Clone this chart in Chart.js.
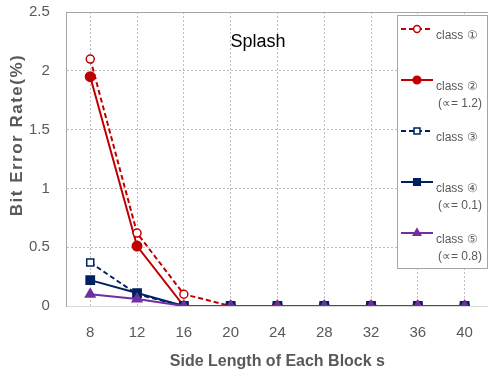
<!DOCTYPE html>
<html>
<head>
<meta charset="utf-8">
<script src="https://cdn.jsdelivr.net/npm/chart.js@4.4.1/dist/chart.umd.min.js"></script>
<style>
  html, body { margin: 0; padding: 0; background: #fff; }
  #wrap { width: 488px; height: 378px; position: relative; }
</style>
</head>
<body>
<div id="wrap"><canvas id="berChart" width="488" height="378"></canvas></div>
<script>
// ===============================
// Data
// ===============================
const sideLengths = ["8", "12", "16", "20", "24", "28", "32", "36", "40"];

const class1 = [2.1, 0.62, 0.1, 0, 0, 0, 0, 0, 0];
const class2 = [1.95, 0.51, 0, 0, 0, 0, 0, 0, 0];
const class3 = [0.37, 0.1, 0, 0, 0, 0, 0, 0, 0];
const class4 = [0.22, 0.11, 0, 0, 0, 0, 0, 0, 0];
const class5 = [0.1, 0.06, 0, 0, 0, 0, 0, 0, 0];

const seriesNames = ["class \u2460", "class \u2461", "class \u2462", "class \u2463", "class \u2464"];
const alphaNotes = ["", "(\u221D= 1.2)", "", "(\u221D= 0.1)", "(\u221D= 0.8)"];

const RED = "#C00000";
const NAVY = "#002060";
const PURPLE = "#7030A0";
const GRAY = "#595959";
const FONT = "'Liberation Sans', Arial, sans-serif";

// ===============================
// Title, axis titles and legend drawn by hand
// ===============================
const insideLegend = {
    id: "insideLegend",
    beforeDatasetsDraw(chart) {
        // solid top frame line
        const a = chart.chartArea;
        const ctx = chart.ctx;
        ctx.save();
        ctx.strokeStyle = "#a6a6a6";
        ctx.lineWidth = 1;
        ctx.beginPath();
        ctx.moveTo(a.left, Math.round(a.top) + 0.5);
        ctx.lineTo(a.right, Math.round(a.top) + 0.5);
        ctx.stroke();
        ctx.restore();
    },
    afterDraw(chart) {
        const ctx = chart.ctx;
        const a = chart.chartArea;
        ctx.save();

        // title
        ctx.fillStyle = "#000";
        ctx.font = "18px " + FONT;
        ctx.textAlign = "center";
        ctx.textBaseline = "middle";
        ctx.fillText("Splash", 258, 42);

        // x axis title
        ctx.fillStyle = GRAY;
        ctx.font = "bold 16px " + FONT;
        ctx.fillText("Side Length of Each Block s", (a.left + a.right) / 2, 362);

        // y axis title
        ctx.save();
        ctx.translate(17, 135);
        ctx.rotate(-Math.PI / 2);
        ctx.fillStyle = GRAY;
        ctx.font = "bold 17px " + FONT;
        ctx.letterSpacing = "1.5px";
        ctx.fillText("Bit Error Rate(%)", 0, 0);
        ctx.restore();

        // legend box
        const bx = 397, by = 15, bw = 90, bh = 253;
        ctx.fillStyle = "#fff";
        ctx.fillRect(bx, by, bw, bh);
        ctx.strokeStyle = "#a6a6a6";
        ctx.lineWidth = 1;
        ctx.strokeRect(bx + 0.5, by + 0.5, bw, bh);

        chart.data.datasets.forEach((ds, i) => {
            const ly = 29 + i * 51;
            ctx.strokeStyle = ds.borderColor;
            ctx.lineWidth = 2;
            ctx.setLineDash(ds.borderDash || []);
            ctx.beginPath();
            ctx.moveTo(401, ly);
            ctx.lineTo(433, ly);
            ctx.stroke();
            ctx.setLineDash([]);
            ctx.fillStyle = ds.pointBackgroundColor;
            ctx.strokeStyle = ds.borderColor;
            ctx.lineWidth = 1.5;
            Chart.helpers.drawPoint(ctx, {
                pointStyle: ds.pointStyle,
                radius: ds.pointRadius * 0.85,
                rotation: 0,
                borderWidth: 1.5
            }, 417, ly);

            ctx.fillStyle = GRAY;
            ctx.font = "12px " + FONT;
            ctx.textAlign = "left";
            ctx.textBaseline = "middle";
            ctx.fillText(seriesNames[i], 436, ly + 7);
            if (alphaNotes[i]) {
                ctx.textAlign = "right";
                ctx.fillText(alphaNotes[i], 482, ly + 24);
            }
        });
        ctx.restore();
    }
};

// ===============================
// Chart
// ===============================
const ctx = document.getElementById("berChart").getContext("2d");

new Chart(ctx, {
    type: "line",
    data: {
        labels: sideLengths,
        datasets: [
            {
                label: seriesNames[0],
                data: class1,
                order: 2,
                borderColor: RED,
                borderDash: [5, 3],
                borderWidth: 2,
                pointStyle: "circle",
                pointRadius: 4,
                pointBackgroundColor: "#fff",
                pointBorderWidth: 1.5
            },
            {
                label: seriesNames[1],
                data: class2,
                order: 2,
                borderColor: RED,
                borderWidth: 2,
                pointStyle: "circle",
                pointRadius: 4.5,
                pointBackgroundColor: RED
            },
            {
                label: seriesNames[2],
                data: class3,
                order: 2,
                borderColor: NAVY,
                borderDash: [5, 3],
                borderWidth: 2,
                pointStyle: "rect",
                pointRadius: 5,
                pointBackgroundColor: "#fff",
                pointBorderWidth: 1.5
            },
            {
                label: seriesNames[3],
                data: class4,
                order: 1,
                borderColor: NAVY,
                borderWidth: 2,
                pointStyle: "rect",
                pointRadius: 5.5,
                pointBackgroundColor: NAVY
            },
            {
                label: seriesNames[4],
                data: class5,
                order: 0,
                borderColor: PURPLE,
                borderWidth: 2,
                pointStyle: "triangle",
                pointRadius: 5,
                pointBackgroundColor: PURPLE
            }
        ]
    },
    options: {
        responsive: false,
        animation: false,
        layout: {
            autoPadding: false,
            padding: { top: 12, right: 0, left: 12, bottom: 18 }
        },
        plugins: {
            legend: { display: false },
            tooltip: { enabled: false }
        },
        elements: {
            line: { tension: 0 }
        },
        scales: {
            x: {
                offset: true,
                afterFit(scale) {
                    scale.paddingLeft = 0;
                    scale.paddingRight = 0;
                },
                grid: {
                    color: "#bfbfbf",
                    drawTicks: false,
                    offset: false
                },
                border: { color: "#d9d9d9", width: 1, dash: [2, 2] },
                ticks: {
                    color: GRAY,
                    font: { size: 15, family: FONT },
                    padding: 18
                }
            },
            y: {
                min: 0,
                max: 2.5,
                afterFit(scale) {
                    scale.paddingTop = 0;
                    scale.paddingBottom = 0;
                },
                grid: {
                    color: "#bfbfbf",
                    drawTicks: false
                },
                border: { color: "#a6a6a6", width: 1, dash: [2, 2] },
                ticks: {
                    stepSize: 0.5,
                    color: GRAY,
                    font: { size: 15, family: FONT },
                    padding: 17,
                    callback: (v) => String(v)
                }
            }
        }
    },
    plugins: [insideLegend]
});
</script>
</body>
</html>
